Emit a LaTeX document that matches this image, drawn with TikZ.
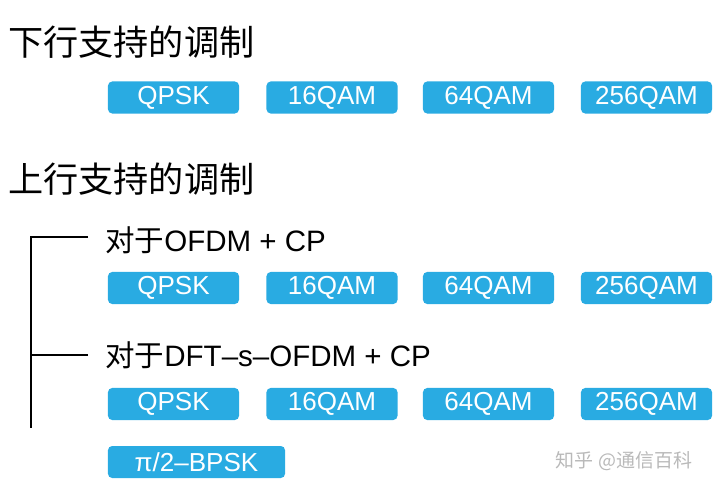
\documentclass[tikz,border=0pt]{standalone}
\usepackage{fontspec}
\setmainfont{Liberation Sans}
\newfontfamily\cjk{Noto Sans CJK SC}
\definecolor{modblue}{RGB}{41,171,226}
\definecolor{markgray}{RGB}{185,185,185}
\begin{document}
\begin{tikzpicture}[x=0.025cm,y=-0.025cm,
    modbox/.style={fill=modblue,text=white,rounded corners=3pt,inner sep=0pt,
      minimum width=3.275cm,minimum height=0.8cm,font=\fontsize{18.5}{18.5}\selectfont},
    title/.style={anchor=west,inner sep=0pt,font=\cjk\fontsize{25}{25}\selectfont},
    sub/.style={anchor=west,inner sep=0pt,font=\fontsize{21}{21}\selectfont},
    tree/.style={line width=1.8pt}]
      \useasboundingbox (0,0) rectangle (720,497);
      % downlink
      \node (dl) at (8,42) [title] {下行支持的调制};
      \node (dlq) at (173.5,97.5) [modbox] {QPSK};
      \node (dl16) at (332,97.5) [modbox] {16QAM};
      \node (dl64) at (488.5,97.5) [modbox] {64QAM};
      \node (dl256) at (646.5,97.5) [modbox] {256QAM};
      % uplink
      \node (ul) at (8,179) [title] {上行支持的调制};
      \coordinate (top) at (31,237) ;
      \coordinate (mid) at (31,355) ;
      \coordinate (bot) at (31,428) ;
      \coordinate (t1) at (88,237) ;
      \coordinate (t2) at (88,355) ;
      \draw[tree] (t1) -- (top) -- (bot);
      \draw[tree] (t2) -- (mid);
      \node (cp) at (105,240) [sub] {{\cjk 对于}OFDM + CP};
      \node (cpq) at (173.5,288) [modbox] {QPSK};
      \node (cp16) at (332,288) [modbox] {16QAM};
      \node (cp64) at (488.5,288) [modbox] {64QAM};
      \node (cp256) at (646.5,288) [modbox] {256QAM};
      \node (dft) at (105,355) [sub] {{\cjk 对于}DFT–s–OFDM + CP};
      \node (dftq) at (173.5,404) [modbox] {QPSK};
      \node (dft16) at (332,404) [modbox] {16QAM};
      \node (dft64) at (488.5,404) [modbox] {64QAM};
      \node (dft256) at (646.5,404) [modbox] {256QAM};
      \node (bpsk) at (196.5,462) [modbox,minimum width=4.425cm] {π/2–BPSK};
      % watermark
      \node (mark) at (624,461) [text=markgray,font=\cjk\fontsize{13.5}{13.5}\selectfont] {知乎 @通信百科};
    \end{tikzpicture}
\end{document}
